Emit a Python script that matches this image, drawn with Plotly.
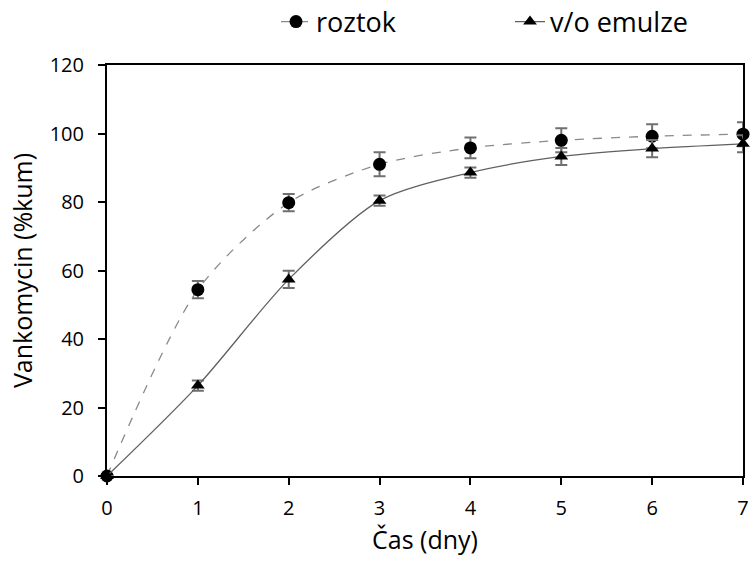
import plotly.graph_objects as go

days = [0, 1, 2, 3, 4, 5, 6, 7]
roztok = [0, 54.4, 79.8, 91.0, 95.8, 98.0, 99.2, 99.8]
roztok_err = [0, 2.5, 2.5, 3.5, 3.0, 3.5, 3.5, 3.5]
emulze = [0, 26.4, 57.4, 80.4, 88.6, 93.3, 95.6, 97.0]
emulze_err = [0, 1.5, 2.5, 1.5, 1.5, 2.5, 2.5, 2.5]
x_ticks = [0, 1, 2, 3, 4, 5, 6, 7]
y_ticks = [0, 20, 40, 60, 80, 100, 120]

FONT = "Open Sans"
fig = go.Figure()
fig.add_trace(go.Scatter(
    x=days, y=roztok, name="roztok", mode="lines+markers", legend="legend",
    line=dict(color="#8a8a8a", width=1.3, dash="dash", shape="spline", smoothing=0.8),
    marker=dict(symbol="circle", size=13, color="black"),
    error_y=dict(type="data", array=roztok_err, visible=True, color="#707070", thickness=2, width=6),
    cliponaxis=False,
))
fig.add_trace(go.Scatter(
    x=days, y=emulze, name="v/o emulze", mode="lines+markers", legend="legend2",
    line=dict(color="#606060", width=1.3, shape="spline", smoothing=0.8),
    marker=dict(symbol="triangle-up", size=12, color="black"),
    error_y=dict(type="data", array=emulze_err, visible=True, color="#707070", thickness=2, width=6),
    cliponaxis=False,
))
leg_common = dict(orientation="h", xref="container", yref="container", xanchor="left",
                  yanchor="middle", y=1 - 22 / 562, font=dict(size=27, family=FONT),
                  bgcolor="rgba(0,0,0,0)")
fig.update_layout(
    width=753, height=562,
    margin=dict(l=107, r=4, t=65, b=86),
    paper_bgcolor="white", plot_bgcolor="white",
    font=dict(family=FONT, color="black", size=20),
    showlegend=True,
    legend=dict(x=276 / 753, **leg_common),
    legend2=dict(x=510 / 753, **leg_common),
    xaxis=dict(range=[0, 7], tickvals=x_ticks, ticks="outside", ticklen=7, tickwidth=2,
               tickcolor="black", showline=True, linecolor="black", linewidth=2, mirror=True,
               showgrid=False, zeroline=False, tickfont=dict(size=20), ticklabelstandoff=6,
               title=dict(text="Čas (dny)", font=dict(size=25), standoff=11)),
    yaxis=dict(range=[0, 120], tickvals=y_ticks, ticks="outside", ticklen=7, tickwidth=2,
               tickcolor="black", showline=True, linecolor="black", linewidth=2, mirror=True,
               showgrid=False, zeroline=False, tickfont=dict(size=20), ticklabelstandoff=10,
               title=dict(text="Vankomycin (%kum)", font=dict(size=25), standoff=10)),
)
fig.write_html("out.html")
